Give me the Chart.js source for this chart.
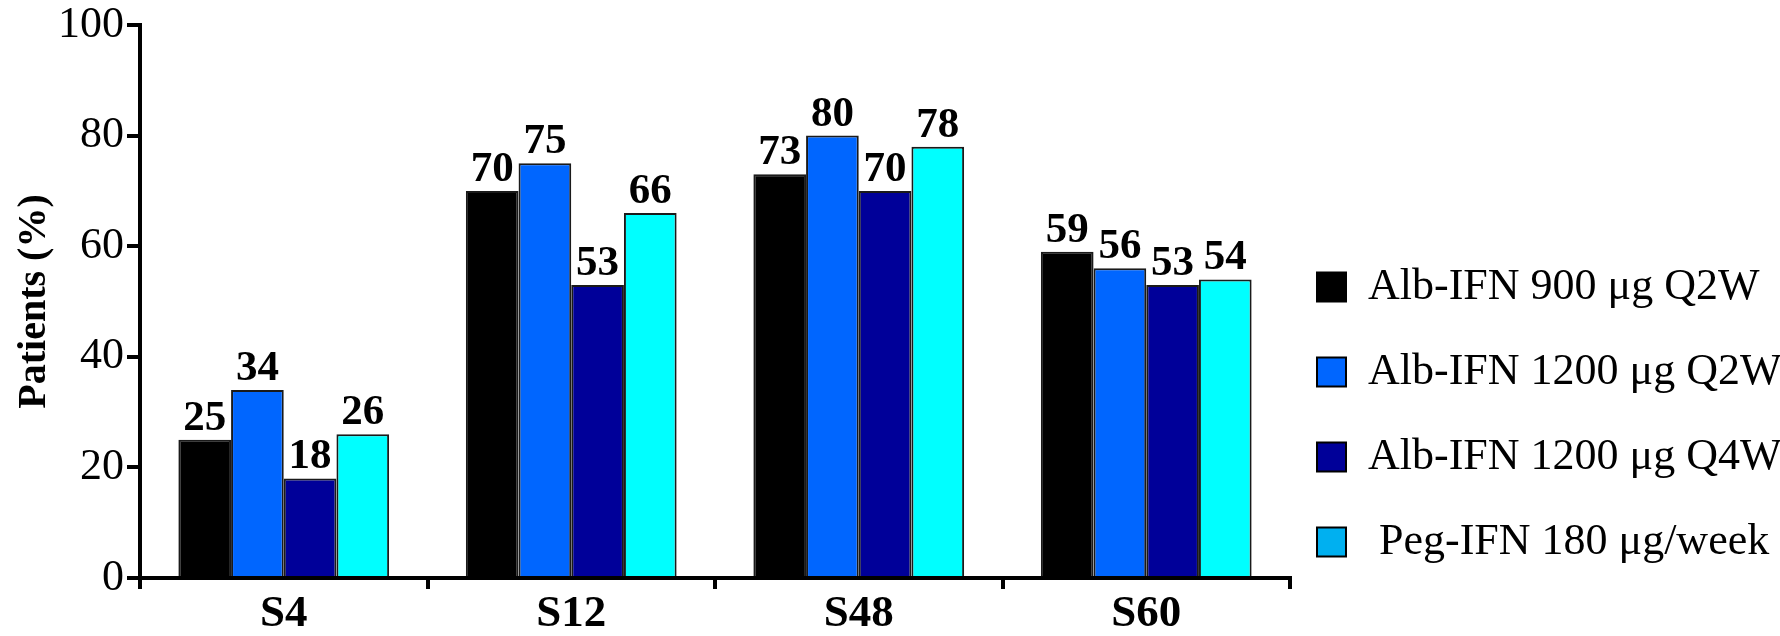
<!DOCTYPE html>
<html lang="en">
<head>
    <meta charset="UTF-8">
    <title>Patients (%) by week</title>
    <script src="https://cdn.jsdelivr.net/npm/chart.js"></script>
    <style>
        body { margin: 0; background: #fff; }
        #wrap { width: 1780px; height: 636px; }
    </style>
</head>
<body>
    <div id="wrap">
        <canvas id="responseChart" width="1780" height="636"></canvas>
    </div>

    <script>
        // Data
        const weeks = ['S4', 'S12', 'S48', 'S60'];
        const seriesNames = [
            'Alb-IFN 900 μg Q2W',
            'Alb-IFN 1200 μg Q2W',
            'Alb-IFN 1200 μg Q4W',
            ' Peg-IFN 180 μg/week'
        ];
        const alb900q2w = [25, 70, 73, 59];
        const alb1200q2w = [34, 75, 80, 56];
        const alb1200q4w = [18, 53, 70, 53];
        const peg180 = [26, 66, 78, 54];
        const yTicks = [0, 20, 40, 60, 80, 100];

        const barColors = ['#000000', '#0066ff', '#000099', '#00ffff'];
        const legendColors = ['#000000', '#0066ff', '#000099', '#00b0f0'];
        const serif = '"Liberation Serif", "Times New Roman", serif';

        // Value labels above each bar
        const valueLabels = {
            id: 'valueLabels',
            afterDatasetsDraw(chart) {
                const ctx = chart.ctx;
                ctx.save();
                ctx.font = 'bold 43px ' + serif;
                ctx.fillStyle = '#000';
                ctx.textAlign = 'center';
                ctx.textBaseline = 'alphabetic';
                chart.data.datasets.forEach((ds, i) => {
                    chart.getDatasetMeta(i).data.forEach((bar, j) => {
                        ctx.fillText(ds.data[j], bar.x, bar.y - 10);
                    });
                });
                ctx.restore();
            }
        };

        // Put the legend to the right of the plot, where the reference has it
        const legendPlace = {
            id: 'legendPlace',
            afterLayout(chart) {
                const lg = chart.legend;
                lg.left = 1276;
                lg.right = 1780;
                lg.top = 224;
                lg.bottom = 760;
                lg.width = lg.right - lg.left;
                lg.height = lg.bottom - lg.top;
            }
        };

        const allSeries = [alb900q2w, alb1200q2w, alb1200q4w, peg180];

        new Chart(document.getElementById('responseChart'), {
            type: 'bar',
            data: {
                labels: weeks,
                datasets: allSeries.map((values, i) => ({
                    label: seriesNames[i],
                    data: values,
                    backgroundColor: barColors[i],
                    borderColor: '#1a1a1a',
                    borderWidth: 2,
                    barPercentage: 1.0,
                    categoryPercentage: 0.733
                }))
            },
            options: {
                responsive: false,
                animation: false,
                layout: { padding: { top: 2, left: 15, right: 490, bottom: -4 } },
                plugins: {
                    tooltip: { enabled: false },
                    legend: {
                        position: 'chartArea',
                        align: 'start',
                        labels: {
                            boxWidth: 29,
                            boxHeight: 29,
                            padding: 41,
                            color: '#000',
                            font: { family: serif, size: 44 },
                            generateLabels(chart) {
                                return chart.data.datasets.map((ds, i) => ({
                                    text: ds.label,
                                    fillStyle: legendColors[i],
                                    strokeStyle: '#000',
                                    lineWidth: 2,
                                    datasetIndex: i
                                }));
                            }
                        }
                    }
                },
                scales: {
                    x: {
                        grid: {
                            offset: true,
                            drawOnChartArea: false,
                            drawTicks: true,
                            tickLength: 11,
                            lineWidth: 4,
                            color: '#000'
                        },
                        border: { display: true, width: 4, color: '#000' },
                        ticks: {
                            color: '#000',
                            padding: 3,
                            font: { family: serif, size: 45, weight: 'bold', lineHeight: 1 }
                        }
                    },
                    y: {
                        min: 0,
                        max: 100,
                        afterBuildTicks(axis) {
                            axis.ticks = yTicks.map(v => ({ value: v }));
                        },
                        grid: {
                            drawOnChartArea: false,
                            drawTicks: true,
                            tickLength: 13,
                            lineWidth: 4,
                            color: '#000'
                        },
                        border: { display: true, width: 4, color: '#000' },
                        ticks: {
                            color: '#000',
                            padding: 3,
                            font: { family: serif, size: 44, lineHeight: 1 }
                        },
                        title: {
                            display: true,
                            text: 'Patients (%)',
                            color: '#000',
                            padding: { top: 0, bottom: 0 },
                            font: { family: serif, size: 40, weight: 'bold', lineHeight: 1 }
                        }
                    }
                }
            },
            plugins: [valueLabels, legendPlace]
        });
    </script>
</body>
</html>
